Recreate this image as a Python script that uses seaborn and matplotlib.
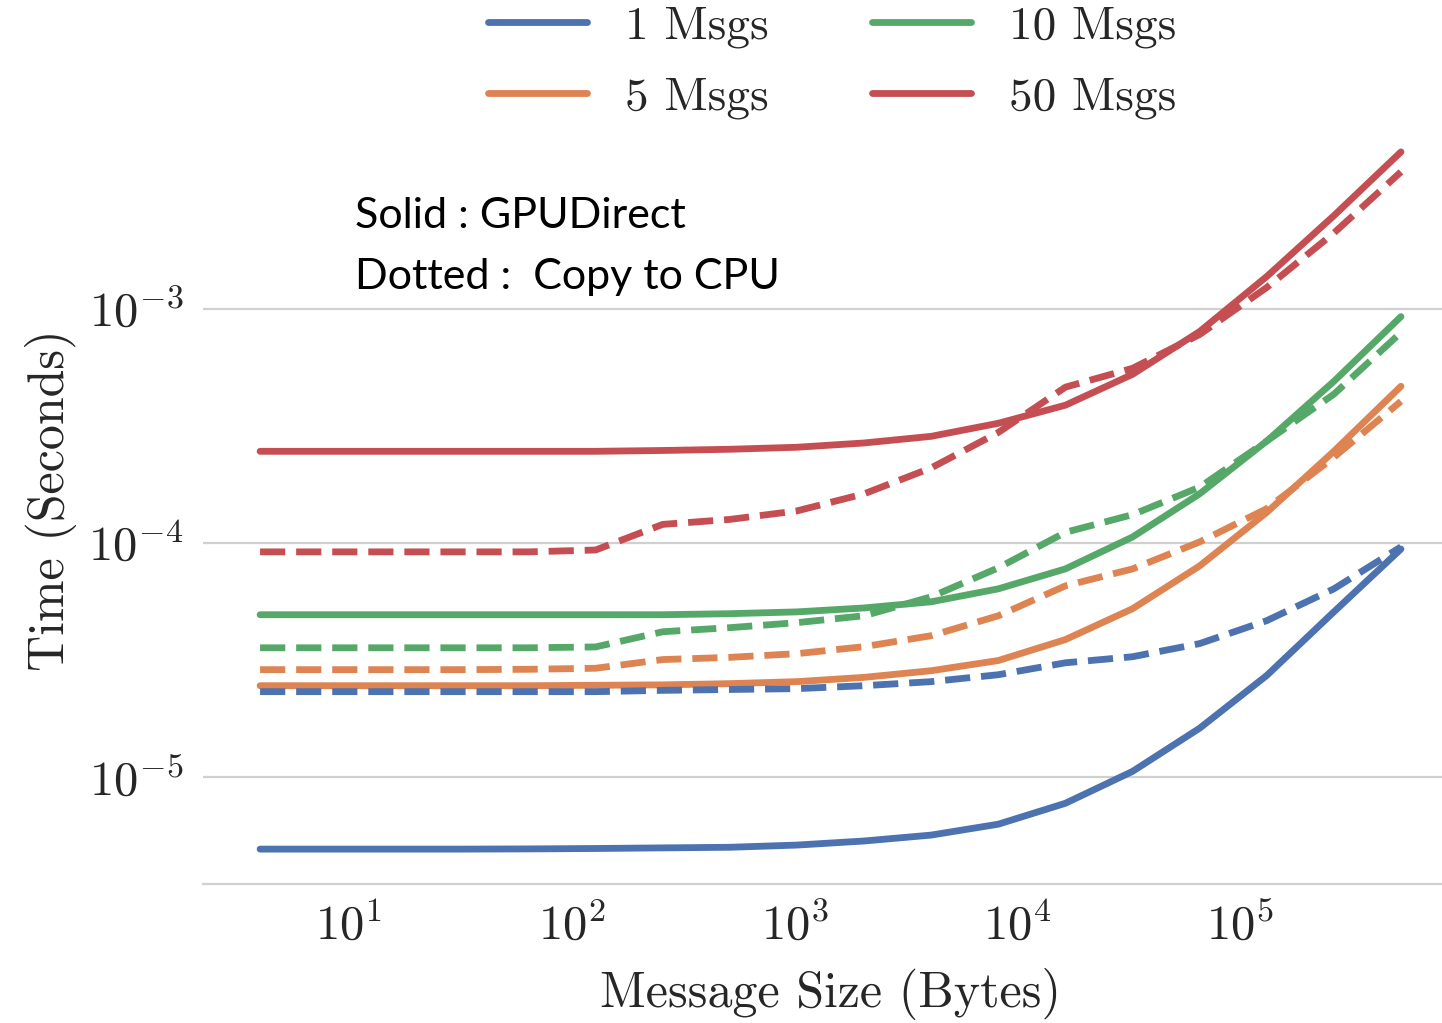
import numpy as np
import pandas as pd
import matplotlib
matplotlib.use("Agg")
import matplotlib.pyplot as plt
from matplotlib.ticker import FuncFormatter, NullLocator
import seaborn as sns

# Message sizes in bytes (powers of two)
sizes = [4, 8, 16, 32, 64, 128, 256, 512, 1024, 2048, 4096, 8192,
         16384, 32768, 65536, 131072, 262144, 524288]

msg_labels = ["1 Msgs", "5 Msgs", "10 Msgs", "50 Msgs"]

# GPUDirect transfer times (seconds)
gpu_1 = [4.94e-6, 4.94e-6, 4.94e-6, 4.94e-6, 4.95e-6, 4.97e-6, 5.00e-6, 5.03e-6, 5.14e-6,
         5.35e-6, 5.67e-6, 6.31e-6, 7.75e-6, 1.06e-5, 1.62e-5, 2.72e-5, 5.08e-5, 9.42e-5]
gpu_5 = [2.46e-5, 2.46e-5, 2.46e-5, 2.46e-5, 2.46e-5, 2.47e-5, 2.48e-5, 2.51e-5, 2.56e-5,
         2.67e-5, 2.85e-5, 3.15e-5, 3.87e-5, 5.24e-5, 7.98e-5, 1.35e-4, 2.46e-4, 4.66e-4]
gpu_10 = [4.94e-5, 4.94e-5, 4.94e-5, 4.94e-5, 4.94e-5, 4.94e-5, 4.94e-5, 4.99e-5, 5.08e-5,
          5.28e-5, 5.61e-5, 6.37e-5, 7.75e-5, 1.06e-4, 1.62e-4, 2.72e-4, 4.89e-4, 9.24e-4]
gpu_50 = [2.46e-4, 2.46e-4, 2.46e-4, 2.46e-4, 2.46e-4, 2.46e-4, 2.48e-4, 2.51e-4, 2.56e-4,
          2.67e-4, 2.85e-4, 3.24e-4, 3.87e-4, 5.24e-4, 7.98e-4, 1.37e-3, 2.49e-3, 4.66e-3]

# Copy-to-CPU transfer times (seconds)
cpu_1 = [2.32e-5, 2.32e-5, 2.32e-5, 2.32e-5, 2.32e-5, 2.32e-5, 2.35e-5, 2.37e-5, 2.39e-5,
         2.46e-5, 2.56e-5, 2.74e-5, 3.08e-5, 3.27e-5, 3.72e-5, 4.66e-5, 6.37e-5, 9.62e-5]
cpu_5 = [2.88e-5, 2.88e-5, 2.88e-5, 2.88e-5, 2.89e-5, 2.92e-5, 3.18e-5, 3.25e-5, 3.37e-5,
         3.61e-5, 4.02e-5, 4.89e-5, 6.56e-5, 7.75e-5, 1.01e-4, 1.40e-4, 2.32e-4, 4.02e-4]
cpu_10 = [3.57e-5, 3.57e-5, 3.57e-5, 3.57e-5, 3.57e-5, 3.60e-5, 4.18e-5, 4.35e-5, 4.57e-5,
          4.89e-5, 5.89e-5, 7.83e-5, 1.11e-4, 1.32e-4, 1.73e-4, 2.72e-4, 4.31e-4, 7.90e-4]
cpu_50 = [9.16e-5, 9.16e-5, 9.16e-5, 9.16e-5, 9.16e-5, 9.33e-5, 1.20e-4, 1.26e-4, 1.37e-4,
          1.62e-4, 2.09e-4, 2.96e-4, 4.62e-4, 5.56e-4, 7.75e-4, 1.23e-3, 2.10e-3, 3.83e-3]

x_ticks = [1e1, 1e2, 1e3, 1e4, 1e5]
y_ticks = [1e-5, 1e-4, 1e-3]


def long_form(series, method):
    frames = []
    for label, values in zip(msg_labels, series):
        frames.append(pd.DataFrame({"size": sizes, "time": values,
                                    "msgs": label, "method": method}))
    return pd.concat(frames, ignore_index=True)


gpu_df = long_form([gpu_1, gpu_5, gpu_10, gpu_50], "GPUDirect")
cpu_df = long_form([cpu_1, cpu_5, cpu_10, cpu_50], "Copy to CPU")

sns.set_theme(style="whitegrid", palette="deep")
plt.rcParams.update({
    "font.family": ["cmr10", "DejaVu Serif"],
    "mathtext.fontset": "cm",
    "axes.formatter.use_mathtext": True,
    "axes.edgecolor": "#d0d0d0",
    "grid.color": "#d0d0d0",
    "grid.linewidth": 1.6,
    "axes.linewidth": 1.6,
    "lines.solid_capstyle": "round",
})

fig = plt.figure(figsize=(14.42, 10.23), dpi=100)
ax = fig.add_axes([0.1408, 0.1359, 0.8703, 0.7497])

lw = 4.9
sns.lineplot(data=gpu_df, x="size", y="time", hue="msgs", hue_order=msg_labels,
             linewidth=lw, ax=ax, legend=True)
sns.lineplot(data=cpu_df, x="size", y="time", hue="msgs", hue_order=msg_labels,
             linewidth=lw, linestyle="--", ax=ax, legend=False)

ax.set_xscale("log")
ax.set_yscale("log")
ax.set_xticks(x_ticks)
ax.set_yticks(y_ticks)
ax.xaxis.set_minor_locator(NullLocator())
ax.yaxis.set_minor_locator(NullLocator())
fmt = FuncFormatter(lambda v, p: r"$\mathrm{10}^{\mathrm{%d}}$" % int(round(np.log10(v))))
ax.xaxis.set_major_formatter(fmt)
ax.yaxis.set_major_formatter(fmt)
ax.tick_params(axis="both", labelsize=35, pad=14, length=0)
ax.xaxis.grid(False)
ax.yaxis.grid(True)
for side in ["left", "right", "top"]:
    ax.spines[side].set_visible(False)

ax.set_xlabel("Message Size (Bytes)", fontsize=36, labelpad=13)
ax.set_ylabel("Time (Seconds)", fontsize=36, labelpad=8)

handles, labels = ax.get_legend_handles_labels()
ax.get_legend().remove()
fig.legend(handles, labels, loc="upper center", bbox_to_anchor=(0.577, 1.036),
           ncol=2, frameon=False, fontsize=34, handlelength=2.1,
           handletextpad=0.8, columnspacing=2.2, labelspacing=0.6)

fig.text(355 / 1442, 1 - 216 / 1023, "Solid : GPUDirect", family="Lato",
         fontsize=31, va="center", ha="left", color="black")
fig.text(355 / 1442, 1 - 277 / 1023, "Dotted :  Copy to CPU", family="Lato",
         fontsize=31, va="center", ha="left", color="black")

fig.savefig("out.png", dpi=100)
